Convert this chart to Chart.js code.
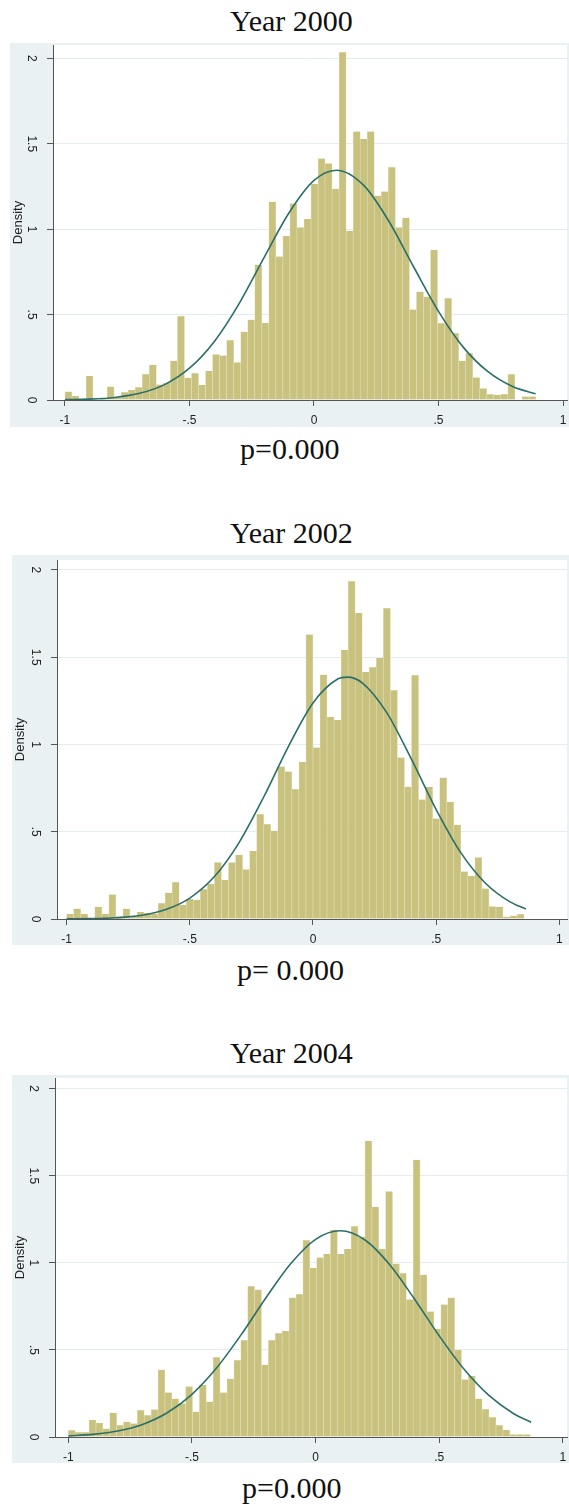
<!DOCTYPE html>
<html>
<head>
<meta charset="utf-8">
<script src="https://cdn.jsdelivr.net/npm/chart.js@4.4.0/dist/chart.umd.min.js"></script>
<style>
  html, body { margin: 0; padding: 0; background: #fff; }
  body { width: 569px; height: 1509px; position: relative; overflow: hidden; }
  canvas { position: absolute; background: #e9f1f3; }
  .title { position: absolute; font-family: 'Liberation Serif', 'Times New Roman', serif;
           font-size: 30px; line-height: 30px; color: #111; white-space: pre; }
</style>
</head>
<body>
<div class="title" style="left:230px;top:6px">Year 2000</div>
<canvas id="c2000" width="559" height="384" style="left:10px;top:43px"></canvas>
<div class="title" style="left:240px;top:434px">p=0.000</div>

<div class="title" style="left:230px;top:518px">Year 2002</div>
<canvas id="c2002" width="557" height="390" style="left:12px;top:555px"></canvas>
<div class="title" style="left:237px;top:955px">p= 0.000</div>

<div class="title" style="left:230px;top:1038px">Year 2004</div>
<canvas id="c2004" width="557" height="388" style="left:12px;top:1075px"></canvas>
<div class="title" style="left:242px;top:1473px">p=0.000</div>

<script>
const xTicks = [-1, -0.5, 0, 0.5, 1];
const yTicks = [0, 0.5, 1, 1.5, 2];

// year 2000: 67 bins from -1
const binStart2000 = -1.0;
const binWidth2000 = 0.02823;
const density2000 = [
  0.049, 0.023, 0.008, 0.14, 0, 0.008, 0.078, 0.015, 0.045, 0.058,
  0.074, 0.15, 0.205, 0.09, 0.10, 0.23, 0.49, 0.13, 0.156, 0.088,
  0.17, 0.267, 0.26, 0.35, 0.22, 0.40, 0.47, 0.79, 0.45, 1.16,
  0.84, 0.96, 1.15, 1.01, 1.06, 1.264, 1.413, 1.385, 1.235, 2.035,
  0.989, 1.571, 1.528, 1.571, 1.196, 1.22, 1.362, 1.01, 1.067, 0.53,
  0.634, 0.605, 0.878, 0.449, 0.595, 0.39, 0.23, 0.273, 0.131, 0.068,
  0.033, 0.029, 0.033, 0.15, 0, 0.02, 0.02
];
const curveX2000 = [-1, -0.9, -0.8, -0.7, -0.6, -0.5, -0.4, -0.3, -0.2, -0.1,
  0, 0.09, 0.2, 0.3, 0.4, 0.5, 0.6, 0.7, 0.8, 0.89];
const normal2000 = [0.002, 0.005, 0.015, 0.039, 0.09, 0.186, 0.343, 0.566, 0.835, 1.096,
  1.285, 1.345, 1.256, 1.048, 0.78, 0.519, 0.308, 0.164, 0.077, 0.036];

// year 2002: 65 bins from -1
const binStart2002 = -1.0;
const binWidth2002 = 0.02857;
const density2002 = [
  0.029, 0.059, 0.029, 0, 0.07, 0.03, 0.14, 0.015, 0.059, 0.015,
  0.04, 0.035, 0.03, 0.09, 0.15, 0.21, 0.08, 0.115, 0.11, 0.17,
  0.20, 0.324, 0.223, 0.324, 0.366, 0.284, 0.389, 0.60, 0.543, 0.505,
  0.874, 0.845, 0.744, 0.899, 1.63, 0.982, 1.40, 1.157, 1.14, 1.542,
  1.935, 1.754, 1.415, 1.443, 1.495, 1.781, 1.31, 0.925, 0.757, 1.396,
  0.684, 0.757, 0.576, 0.81, 0.671, 0.54, 0.272, 0.246, 0.353, 0.175,
  0.072, 0.07, 0.013, 0.019, 0.027
];
const curveX2002 = [-1, -0.9, -0.8, -0.7, -0.6, -0.5, -0.4, -0.3, -0.2, -0.1,
  0, 0.1, 0.14, 0.2, 0.3, 0.4, 0.5, 0.6, 0.7, 0.8, 0.864];
const normal2002 = [0.001, 0.002, 0.007, 0.02, 0.053, 0.12, 0.243, 0.438, 0.699, 0.988,
  1.238, 1.375, 1.386, 1.353, 1.181, 0.914, 0.627, 0.38, 0.205, 0.098, 0.057];

// year 2004: 67 bins from -1
const binStart2004 = -1.0;
const binWidth2004 = 0.0279;
const density2004 = [
  0.039, 0.027, 0.027, 0.097, 0.081, 0.048, 0.139, 0.068, 0.087, 0.077,
  0.154, 0.125, 0.158, 0.386, 0.255, 0.22, 0.193, 0.29, 0.145, 0.299,
  0.203, 0.458, 0.255, 0.334, 0.44, 0.556, 0.865, 0.846, 0.415, 0.556,
  0.595, 0.608, 0.80, 0.82, 1.13, 0.97, 1.03, 1.05, 1.19, 1.05,
  1.08, 1.21, 1.15, 1.70, 1.32, 1.08, 1.41, 0.995, 0.94, 0.79,
  1.59, 0.93, 0.72, 0.62, 0.76, 0.80, 0.50, 0.33, 0.35, 0.22,
  0.16, 0.113, 0.068, 0.04, 0.015, 0.015, 0.015
];
const curveX2004 = [-1, -0.9, -0.8, -0.7, -0.6, -0.5, -0.4, -0.3, -0.2, -0.1,
  0, 0.1, 0.2, 0.3, 0.4, 0.5, 0.6, 0.7, 0.8, 0.872];
const normal2004 = [0.006, 0.015, 0.034, 0.072, 0.139, 0.245, 0.397, 0.589, 0.801, 0.996,
  1.135, 1.184, 1.131, 0.989, 0.792, 0.581, 0.39, 0.24, 0.135, 0.085];

const sans = "Arial, 'Liberation Sans', sans-serif";

// stata style labels: -.5, .5
function stataLabel(v) {
  if (v === 0) return '0';
  return (v < 0 ? '-' : '') + String(Math.abs(v)).replace(/^0\./, '.');
}

// white plot region inside the grey graph region
const plotRegion = {
  id: 'plotRegion',
  beforeDraw(chart) {
    const { ctx, chartArea: a } = chart;
    ctx.save();
    ctx.fillStyle = '#ffffff';
    ctx.fillRect(a.left, a.top, a.right - a.left, a.bottom - a.top);
    ctx.restore();
  }
};

function makePanel(id, binStart, binWidth, density, curveX, curve, box) {
  const bars = density.map((h, i) => ({ x: binStart + (i + 0.5) * binWidth, y: h }));
  const line = curveX.map((x, i) => ({ x: x, y: curve[i] }));
  return new Chart(document.getElementById(id), {
    type: 'bar',
    data: {
      datasets: [
        {
          type: 'line',
          data: line,
          borderColor: '#2b6f68',
          borderWidth: 1.6,
          pointRadius: 0,
          cubicInterpolationMode: 'monotone',
          fill: false,
          order: 1
        },
        {
          type: 'bar',
          data: bars,
          backgroundColor: '#c9c27e',
          borderColor: '#e2dfbb',
          borderWidth: { left: 0.6, right: 0.6, top: 0, bottom: 0 },
          barPercentage: 1,
          categoryPercentage: 1,
          order: 2
        }
      ]
    },
    options: {
      responsive: false,
      animation: false,
      events: [],
      layout: { padding: { top: box.padTop, right: 2, left: 0, bottom: 0 } },
      plugins: { legend: { display: false }, tooltip: { enabled: false } },
      scales: {
        x: {
          type: 'linear',
          min: box.xMin,
          max: box.xMax,
          offset: false,
          afterBuildTicks: s => { s.ticks = xTicks.map(v => ({ value: v })); },
          afterFit: s => { s.height = box.axisHeight; s.paddingLeft = 0; s.paddingRight = 0; },
          grid: { offset: false, drawOnChartArea: false, drawTicks: true, tickLength: 6, tickColor: '#555' },
          border: { display: true, color: '#555', width: 1 },
          ticks: {
            autoSkip: false, maxRotation: 0, padding: 7, color: '#222',
            font: { family: sans, size: 12 },
            callback: v => stataLabel(v)
          }
        },
        y: {
          min: 0,
          max: box.yMax,
          afterBuildTicks: s => { s.ticks = yTicks.map(v => ({ value: v })); },
          afterFit: s => { s.width = box.axisWidth; s.paddingTop = 0; s.paddingBottom = 0; },
          grid: { color: '#e3ecef', lineWidth: 1, tickLength: 6, tickColor: '#555' },
          border: { display: true, color: '#555', width: 1 },
          ticks: {
            autoSkip: false, minRotation: -90, maxRotation: -90, crossAlign: 'center',
            padding: 7, color: '#222',
            font: { family: sans, size: 12 },
            callback: v => stataLabel(v)
          },
          title: {
            display: true, text: 'Density', color: '#222',
            font: { family: sans, size: 13 },
            padding: { top: 1, bottom: 0 }
          }
        }
      }
    },
    plugins: [plotRegion]
  });
}

makePanel('c2000', binStart2000, binWidth2000, density2000, curveX2000, normal2000,
  { xMin: -1.048, xMax: 1.016, yMax: 2.078, axisWidth: 43, axisHeight: 27, padTop: 2 });
makePanel('c2002', binStart2002, binWidth2002, density2002, curveX2002, normal2002,
  { xMin: -1.039, xMax: 1.031, yMax: 2.057, axisWidth: 45, axisHeight: 26, padTop: 5 });
makePanel('c2004', binStart2004, binWidth2004, density2004, curveX2004, normal2004,
  { xMin: -1.054, xMax: 1.017, yMax: 2.061, axisWidth: 43, axisHeight: 26, padTop: 3 });
</script>
</body>
</html>
